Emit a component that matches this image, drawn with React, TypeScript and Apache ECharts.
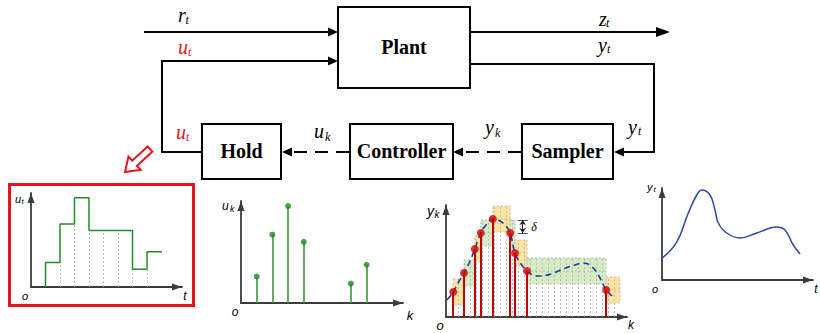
import React, { useEffect, useRef } from "react";
import * as echarts from "echarts";

// ---------- u_t (hold output) and u_k (controller samples) ----------
const uSampleK = [1, 2, 3, 4, 7, 8];
const uSampleValues = [0.26, 0.67, 0.95, 0.6, 0.19, 0.375];
const uHoldEndK = 9.03;
const uHoldGridK = [2, 3, 4, 5, 6, 7, 8];

// ---------- y_k (event-triggered samples of y_t) ----------
const ykEventTimes = [1.2, 3.0, 4.8, 5.8, 7.8, 10.7, 11.5, 13.5, 26.7];
const ykEventValues = [0.25, 0.44, 0.68, 0.84, 0.98, 0.84, 0.64, 0.46, 0.27];
const ykBandEnd = 29.0;
const ykDelta = 0.13;
const ykGridTimes = [2, 3, 4, 5, 6, 7, 8, 9, 10, 11, 12, 13, 14, 15, 16, 17, 18, 19, 20, 21, 22, 23, 24, 25, 26, 27, 28];
const ykCurveT = [0.17, 1.2, 2, 3, 4, 4.8, 5.8, 6.8, 7.8, 9, 10, 10.7, 11.5, 12.5, 13.5, 14.5, 15.7, 17.5, 19.5, 21.5, 22.8, 24, 25.2, 26, 26.7, 27.7];
const ykCurveV = [0.17, 0.25, 0.34, 0.44, 0.56, 0.68, 0.84, 0.93, 0.98, 0.96, 0.91, 0.84, 0.64, 0.53, 0.46, 0.42, 0.41, 0.43, 0.48, 0.52, 0.54, 0.52, 0.44, 0.35, 0.27, 0.21];

// ---------- y_t (continuous plant output) ----------
const ytCurveT = [0.05, 2.45, 4.38, 5.78, 6.62, 8.0, 8.83, 9.38, 10.78, 13.0, 15.78, 19.12, 20.5, 21.88, 23.0];
const ytCurveV = [0.22, 0.38, 0.67, 0.85, 0.9, 0.85, 0.7, 0.57, 0.47, 0.42, 0.47, 0.53, 0.5, 0.35, 0.26];

// ---------- styles ----------
const AXIS_COLOR = "#3c3c3c";
const GREEN_LINE = "#2a8a2a";
const GREEN_DOT = "#1f871f";
const RED = "#e8141c";
const STEM_RED = "#c40000";
const BLUE = "#2f45b0";
const YELLOW_BAND = "#fde4a3";
const GREEN_BAND = "#d6ecc4";
const GRAY_DOT = "#b0b0b0";

const SERIF = '"Liberation Serif", "Times New Roman", serif';
const SANS = '"Liberation Sans", Arial, sans-serif';

function xAxisCfg(gridIndex: number, max: number) {
  return {
    type: "value",
    gridIndex,
    min: 0,
    max,
    axisLine: {
      show: true,
      onZero: false,
      symbol: ["none", "triangle"],
      symbolSize: [7, 10],
      symbolOffset: [0, -5],
      lineStyle: { color: AXIS_COLOR, width: 1.8 },
    },
    axisTick: { show: false },
    axisLabel: { show: false },
    splitLine: { show: false },
  };
}
function yAxisCfg(gridIndex: number, max: number) {
  return { ...xAxisCfg(gridIndex, max) };
}

function txt(text: string, x: number, y: number, opts: any) {
  return {
    type: "text",
    x,
    y,
    silent: true,
    style: {
      text,
      fill: opts.color || "#000",
      fontSize: opts.size,
      fontFamily: opts.family,
      fontStyle: opts.italic ? "italic" : "normal",
      fontWeight: opts.bold ? "bold" : "normal",
      align: opts.align || "left",
      verticalAlign: "middle",
      textAlign: opts.align || "left",
      textVerticalAlign: "middle",
    },
  };
}

// main letter + subscript, positioned by baseline
function subLabel(main: string, sub: string, x: number, baseline: number, subX: number, subBaseline: number, color: string) {
  return [
    txt(main, x, baseline - 6.4, { size: 20, family: SERIF, italic: true, color }),
    txt(sub, subX, subBaseline - 3.8, { size: 12, family: SERIF, italic: true, color }),
  ];
}

function arrowHead(tipX: number, y: number, dir: number, len = 10, half = 4.5) {
  return {
    type: "polygon",
    silent: true,
    shape: { points: [[tipX, y], [tipX - dir * len, y - half], [tipX - dir * len, y + half]] },
    style: { fill: "#000" },
  };
}

function box(x: number, y: number, w: number, h: number, label: string) {
  return [
    {
      type: "rect",
      silent: true,
      shape: { x, y, width: w, height: h },
      style: { fill: "#fff", stroke: "#000", lineWidth: 2 },
    },
    txt(label, x + w / 2, y + h / 2 - 0.5, { size: 20, family: SERIF, bold: true, align: "center" }),
  ];
}

function redHollowArrow() {
  const tail = [150, 149];
  const tip = [125, 172];
  const dx = tip[0] - tail[0];
  const dy = tip[1] - tail[1];
  const L = Math.sqrt(dx * dx + dy * dy);
  const d = [dx / L, dy / L];
  const n = [d[1], -d[0]];
  const local = [
    [0, -3.5], [L - 13, -3.5], [L - 13, -9], [L, 0], [L - 13, 9], [L - 13, 3.5], [0, 3.5],
  ];
  const pts = local.map(([a, b]) => [tail[0] + a * d[0] + b * n[0], tail[1] + a * d[1] + b * n[1]]);
  return {
    type: "polygon",
    silent: true,
    shape: { points: pts },
    style: { fill: "#fff", stroke: RED, lineWidth: 2 },
  };
}

function buildOption() {
  // --- hold (zero-order hold) step line ---
  const holdPts: number[][] = [[uSampleK[0], 0]];
  for (let i = 0; i < uSampleK.length; i++) {
    const next = i + 1 < uSampleK.length ? uSampleK[i + 1] : uHoldEndK;
    holdPts.push([uSampleK[i], uSampleValues[i]]);
    holdPts.push([next, uSampleValues[i]]);
  }
  const holdAt = (k: number, strict: boolean) => {
    let v = 0;
    for (let i = 0; i < uSampleK.length; i++) {
      if (strict ? uSampleK[i] < k : uSampleK[i] <= k) v = uSampleValues[i];
    }
    return v;
  };
  const holdGrid = uHoldGridK.map((k) => ({
    coords: [[k, 0], [k, Math.min(holdAt(k, true), holdAt(k, false))]],
  }));

  // --- controller stems ---
  const ukStems = uSampleK.map((k, i) => ({ coords: [[k, 0], [k, uSampleValues[i]]] }));
  const ukDots = uSampleK.map((k, i) => [k, uSampleValues[i]]);

  // --- y_k bands ---
  const bands = ykEventTimes.map((t, i) => [
    t,
    i + 1 < ykEventTimes.length ? ykEventTimes[i + 1] : ykBandEnd,
    ykEventValues[i],
    i % 2,
  ]);
  const bandTop = (t: number) => {
    let top = -1;
    for (let i = 0; i < ykEventTimes.length; i++) {
      if (ykEventTimes[i] <= t) top = ykEventValues[i] + ykDelta;
    }
    return top;
  };
  const ykGrid = ykGridTimes
    .filter((t) => bandTop(t) > 0)
    .map((t) => ({ coords: [[t, 0], [t, bandTop(t)]] }));
  const ykStems = ykEventTimes.map((t, i) => ({ coords: [[t, 0], [t, ykEventValues[i]]] }));
  const ykDots = ykEventTimes.map((t, i) => [t, ykEventValues[i]]);
  const ykCurve = ykCurveT.map((t, i) => [t, ykCurveV[i]]);
  const ytCurve = ytCurveT.map((t, i) => [t, ytCurveV[i]]);

  // delta annotation next to the 6th sample band
  const dV = ykEventValues[5];
  const dTop = dV + ykDelta;
  const dX = 12.78;
  const deltaMarks = [
    { coords: [[11.95, dTop], [13.67, dTop]] },
    { coords: [[11.95, dV], [13.67, dV]] },
  ];
  const deltaArrow = [{ coords: [[dX, dTop], [dX, dV]] }];

  const graphic: any[] = [
    // reference input r_t
    { type: "line", silent: true, shape: { x1: 144, y1: 32, x2: 329, y2: 32 }, style: { stroke: "#000", lineWidth: 2 } },
    arrowHead(338, 32, 1),
    ...subLabel("r", "t", 178, 21, 185.5, 23.5, "#000"),
    // u_t feedback into plant
    {
      type: "polyline",
      silent: true,
      shape: { points: [[202, 152], [162, 152], [162, 61], [329, 61]] },
      style: { stroke: "#000", lineWidth: 2, fill: null },
    },
    arrowHead(338, 61, 1),
    ...subLabel("u", "t", 178, 53, 188, 55.5, RED),
    ...subLabel("u", "t", 176, 138, 186, 140.5, RED),
    // z_t output
    { type: "line", silent: true, shape: { x1: 470, y1: 32, x2: 657, y2: 32 }, style: { stroke: "#000", lineWidth: 2 } },
    arrowHead(670, 32, 1, 14, 5),
    ...subLabel("z", "t", 599, 25, 606, 26.5, "#000"),
    // y_t output to sampler
    {
      type: "polyline",
      silent: true,
      shape: { points: [[470, 64], [654, 64], [654, 152], [622, 152]] },
      style: { stroke: "#000", lineWidth: 2, fill: null },
    },
    arrowHead(614, 152, -1),
    ...subLabel("y", "t", 598, 51, 607, 53, "#000"),
    ...subLabel("y", "t", 628, 133, 638, 135, "#000"),
    // dashed: sampler -> controller
    { type: "line", silent: true, shape: { x1: 466, y1: 152, x2: 522, y2: 152 }, style: { stroke: "#000", lineWidth: 2, lineDash: [13, 8] } },
    arrowHead(453, 152, -1),
    ...subLabel("y", "k", 485, 133, 495, 137, "#000"),
    // dashed: controller -> hold
    { type: "line", silent: true, shape: { x1: 294, y1: 152, x2: 350, y2: 152 }, style: { stroke: "#000", lineWidth: 2, lineDash: [13, 8] } },
    arrowHead(282, 152, -1),
    ...subLabel("u", "k", 314, 137, 325, 141, "#000"),
    // blocks
    ...box(338, 7, 132, 81, "Plant"),
    ...box(202, 124, 79, 55, "Hold"),
    ...box(350, 124, 103, 55, "Controller"),
    ...box(522, 124, 91, 55, "Sampler"),
    // red highlight
    redHollowArrow(),
    {
      type: "rect",
      silent: true,
      shape: { x: 9.5, y: 184.5, width: 184, height: 121 },
      style: { fill: null, stroke: RED, lineWidth: 3 },
    },
    // small chart labels
    txt("u", 15, 199, { size: 11, family: SANS, italic: true }),
    txt("t", 21.5, 201.5, { size: 8, family: SANS, italic: true }),
    txt("o", 25, 296, { size: 11, family: SANS, italic: true, align: "center" }),
    txt("t", 185, 296, { size: 12, family: SANS, italic: true, align: "center" }),

    txt("u", 222, 206, { size: 12, family: SANS, italic: true }),
    txt("k", 230, 209, { size: 9, family: SANS, italic: true }),
    txt("o", 235, 312, { size: 12, family: SANS, italic: true, align: "center" }),
    txt("k", 410, 315, { size: 13, family: SANS, italic: true, align: "center" }),

    txt("y", 427, 211, { size: 14, family: SANS, italic: true }),
    txt("k", 434.5, 214, { size: 10, family: SANS, italic: true }),
    txt("o", 440, 325, { size: 13, family: SANS, italic: true, align: "center" }),
    txt("k", 631, 325, { size: 12, family: SANS, italic: true, align: "center" }),
    txt("δ", 534, 227, { size: 12, family: SERIF, italic: true, align: "center" }),

    txt("y", 647, 187, { size: 11, family: SANS, italic: true }),
    txt("t", 653.5, 189.5, { size: 8, family: SANS, italic: true }),
    txt("o", 655, 289, { size: 11, family: SANS, italic: true, align: "center" }),
    txt("t", 816, 289, { size: 12, family: SANS, italic: true, align: "center" }),
  ];

  return {
    animation: false,
    backgroundColor: "#fff",
    grid: [
      { left: 31, top: 193, width: 151, height: 94 },
      { left: 241, top: 201, width: 162, height: 102 },
      { left: 446, top: 205, width: 181, height: 112 },
      { left: 662, top: 188, width: 151, height: 92 },
    ],
    xAxis: [xAxisCfg(0, 151 / 14.5), xAxisCfg(1, 162 / 15.7), xAxisCfg(2, 181 / 6), xAxisCfg(3, 151 / 6)],
    yAxis: [yAxisCfg(0, 1), yAxisCfg(1, 1), yAxisCfg(2, 1.12), yAxisCfg(3, 0.92)],
    series: [
      // ---- chart 1: u_t ----
      {
        type: "lines",
        coordinateSystem: "cartesian2d",
        xAxisIndex: 0,
        yAxisIndex: 0,
        silent: true,
        z: 2,
        lineStyle: { color: GRAY_DOT, width: 0.9, type: [2, 2], opacity: 1 },
        data: holdGrid,
      },
      {
        type: "line",
        xAxisIndex: 0,
        yAxisIndex: 0,
        silent: true,
        clip: false,
        z: 3,
        showSymbol: false,
        symbol: "none",
        lineStyle: { color: GREEN_LINE, width: 1.5 },
        data: holdPts,
      },
      // ---- chart 2: u_k ----
      {
        type: "lines",
        coordinateSystem: "cartesian2d",
        xAxisIndex: 1,
        yAxisIndex: 1,
        silent: true,
        z: 3,
        lineStyle: { color: "#3a9a3a", width: 1.6, opacity: 1 },
        data: ukStems,
      },
      {
        type: "scatter",
        xAxisIndex: 1,
        yAxisIndex: 1,
        silent: true,
        z: 4,
        symbolSize: 6,
        itemStyle: { color: GREEN_DOT },
        data: ukDots,
      },
      // ---- chart 3: y_k ----
      {
        type: "custom",
        xAxisIndex: 2,
        yAxisIndex: 2,
        silent: true,
        z: 1,
        encode: { x: [0, 1], y: 2 },
        data: bands,
        renderItem: (params: any, api: any) => {
          const x0 = api.value(0);
          const x1 = api.value(1);
          const v = api.value(2);
          const c = api.value(3);
          const tl = api.coord([x0, v + ykDelta]);
          const br = api.coord([x1, v - ykDelta]);
          const ml = api.coord([x0, v]);
          const mr = api.coord([x1, v]);
          return {
            type: "group",
            children: [
              {
                type: "rect",
                shape: { x: tl[0], y: tl[1], width: br[0] - tl[0], height: br[1] - tl[1] },
                style: { fill: c ? GREEN_BAND : YELLOW_BAND, stroke: GRAY_DOT, lineWidth: 0.8, lineDash: [2, 2] },
              },
              {
                type: "line",
                shape: { x1: ml[0], y1: ml[1], x2: mr[0], y2: mr[1] },
                style: { stroke: GRAY_DOT, lineWidth: 0.8, lineDash: [2, 2] },
              },
            ],
          };
        },
      },
      {
        type: "lines",
        coordinateSystem: "cartesian2d",
        xAxisIndex: 2,
        yAxisIndex: 2,
        silent: true,
        z: 2,
        lineStyle: { color: GRAY_DOT, width: 0.8, type: [2, 2], opacity: 1 },
        data: ykGrid,
      },
      {
        type: "line",
        xAxisIndex: 2,
        yAxisIndex: 2,
        silent: true,
        clip: false,
        z: 3,
        smooth: 0.35,
        showSymbol: false,
        symbol: "none",
        lineStyle: { color: "#1f3a9c", width: 1.6, type: [6, 4] },
        data: ykCurve,
      },
      {
        type: "lines",
        coordinateSystem: "cartesian2d",
        xAxisIndex: 2,
        yAxisIndex: 2,
        silent: true,
        z: 4,
        lineStyle: { color: STEM_RED, width: 2, opacity: 1 },
        data: ykStems,
      },
      {
        type: "scatter",
        xAxisIndex: 2,
        yAxisIndex: 2,
        silent: true,
        z: 5,
        symbolSize: 8,
        itemStyle: { color: "#d00000" },
        data: ykDots,
      },
      {
        type: "lines",
        coordinateSystem: "cartesian2d",
        xAxisIndex: 2,
        yAxisIndex: 2,
        silent: true,
        z: 5,
        lineStyle: { color: "#555", width: 1, opacity: 1 },
        data: deltaMarks,
      },
      {
        type: "lines",
        coordinateSystem: "cartesian2d",
        xAxisIndex: 2,
        yAxisIndex: 2,
        silent: true,
        z: 5,
        symbol: ["arrow", "arrow"],
        symbolSize: 5,
        lineStyle: { color: "#222", width: 1, opacity: 1 },
        data: deltaArrow,
      },
      // ---- chart 4: y_t ----
      {
        type: "line",
        xAxisIndex: 3,
        yAxisIndex: 3,
        silent: true,
        clip: false,
        z: 3,
        smooth: 0.4,
        showSymbol: false,
        symbol: "none",
        lineStyle: { color: BLUE, width: 1.5 },
        data: ytCurve,
      },
    ],
    graphic,
  };
}

export default function App() {
  const ref = useRef<HTMLDivElement>(null);
  useEffect(() => {
    if (!ref.current) return;
    const chart = echarts.init(ref.current, undefined, { renderer: "svg" });
    chart.setOption(buildOption() as any);
    return () => {
      chart.dispose();
    };
  }, []);
  return (
    <div
      ref={ref}
      style={{ position: "absolute", left: 0, top: 0, width: 820, height: 333, background: "#fff" }}
    />
  );
}
